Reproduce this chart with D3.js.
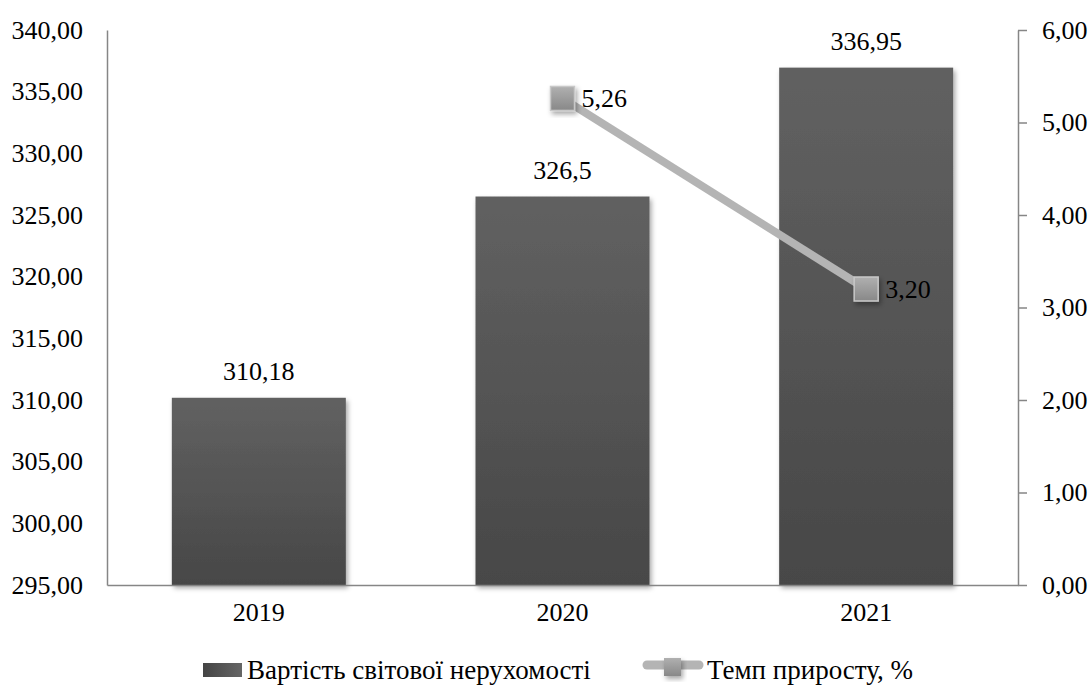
<!DOCTYPE html>
<html><head><meta charset="utf-8">
<script src="https://cdn.jsdelivr.net/npm/d3@7"></script>
</head><body style="margin:0;background:#fff">
<svg id="c" width="1092" height="685" font-family="Liberation Serif"></svg>
<script>
const years = ["2019","2020","2021"];
const values = [310.18, 326.5, 336.95];
const valueLabels = ["310,18","326,5","336,95"];
const growthYears = ["2020","2021"];
const growth = [5.26, 3.20];
const growthLabels = ["5,26","3,20"];
const leftTicks = [295,300,305,310,315,320,325,330,335,340];
const rightTicks = [0,1,2,3,4,5,6];
const seriesNames = ["Вартість світової нерухомості","Темп приросту, %"];

const FONT = "Liberation Serif";
const svg = d3.select("#c");
const m = {l:107, r:1018, t:30, b:585};
const fmt = d => d.toFixed(2).replace(".", ",");
const fs = 26;

const defs = svg.append("defs");
const bg = defs.append("linearGradient").attr("id","bg").attr("x1",0).attr("y1",0).attr("x2",0).attr("y2",1);
bg.append("stop").attr("offset","0%").attr("stop-color","#616161");
bg.append("stop").attr("offset","100%").attr("stop-color","#474747");
const lg = defs.append("linearGradient").attr("id","lg").attr("x1",0).attr("y1",0).attr("x2",1).attr("y2",0);
lg.append("stop").attr("offset","0%").attr("stop-color","#444");
lg.append("stop").attr("offset","100%").attr("stop-color","#666");
const mg = defs.append("linearGradient").attr("id","mg").attr("x1",0).attr("y1",0).attr("x2",0).attr("y2",1);
mg.append("stop").attr("offset","0%").attr("stop-color","#b0b0b0");
mg.append("stop").attr("offset","100%").attr("stop-color","#888");
const sh = defs.append("filter").attr("id","sh").attr("x","-20%").attr("y","-20%").attr("width","150%").attr("height","150%");
sh.append("feDropShadow").attr("dx",2).attr("dy",3).attr("stdDeviation",2.5).attr("flood-color","#000").attr("flood-opacity",0.35);

const x = d3.scaleBand().domain(years).range([m.l, m.r]).paddingInner(0.427).paddingOuter(0.2135);
const yL = d3.scaleLinear().domain([295,340]).range([m.b, m.t]);
const yR = d3.scaleLinear().domain([0,6]).range([m.b, m.t]);

svg.append("g").selectAll("rect").data(values).join("rect")
  .attr("x",(d,i)=>x(years[i])).attr("width",x.bandwidth())
  .attr("y",d=>yL(d)).attr("height",d=>m.b-yL(d))
  .attr("fill","url(#bg)").attr("filter","url(#sh)");

function styleAxis(g){
  g.attr("font-family",FONT).attr("font-size",fs);
  g.select(".domain").attr("stroke","#868686").attr("stroke-width",1.5);
  g.selectAll(".tick line").attr("stroke","#868686").attr("stroke-width",1.5);
  g.selectAll("text").attr("fill","#000").attr("font-family",FONT).attr("font-size",fs);
}
const gL = svg.append("g").attr("transform",`translate(${m.l},0)`)
  .call(d3.axisLeft(yL).tickValues(leftTicks).tickSize(0).tickPadding(24).tickFormat(fmt));
styleAxis(gL);
const gR = svg.append("g").attr("transform",`translate(${m.r},0)`)
  .call(d3.axisRight(yR).tickValues(rightTicks).tickSize(9).tickSizeOuter(0).tickPadding(15).tickFormat(fmt));
styleAxis(gR);
const gB = svg.append("g").attr("transform",`translate(0,${m.b})`)
  .call(d3.axisBottom(x).tickSize(0).tickPadding(18));
styleAxis(gB);

svg.append("g").selectAll("text").data(values).join("text")
  .attr("x",(d,i)=>x(years[i])+x.bandwidth()/2).attr("y",d=>yL(d)-18)
  .attr("text-anchor","middle").attr("font-family",FONT).attr("font-size",fs).text((d,i)=>valueLabels[i]);

const cx = yr => x(yr)+x.bandwidth()/2;
svg.append("path").datum(growth)
  .attr("d", d3.line().x((d,i)=>cx(growthYears[i])).y(d=>yR(d)))
  .attr("fill","none").attr("stroke","#b4b4b4").attr("stroke-width",8);
const ms = 24;
svg.append("g").selectAll("rect").data(growth).join("rect")
  .attr("x",(d,i)=>cx(growthYears[i])-ms/2).attr("y",d=>yR(d)-ms/2)
  .attr("width",ms).attr("height",ms).attr("fill","url(#mg)")
  .attr("stroke","#c8c8c8").attr("stroke-width",1.5).attr("filter","url(#sh)");
svg.append("g").selectAll("text").data(growth).join("text")
  .attr("x",(d,i)=>cx(growthYears[i])+19).attr("y",d=>yR(d)+9)
  .attr("font-family",FONT).attr("font-size",fs).text((d,i)=>growthLabels[i]);

// legend
svg.append("rect").attr("x",203).attr("y",663).attr("width",39).attr("height",14).attr("fill","url(#lg)");
svg.append("text").attr("x",247).attr("y",679).attr("font-family",FONT).attr("font-size",27).text(seriesNames[0]);
svg.append("line").attr("x1",647).attr("x2",699).attr("y1",665).attr("y2",665)
  .attr("stroke","#b4b4b4").attr("stroke-width",9).attr("stroke-linecap","round");
svg.append("rect").attr("x",664).attr("y",658).attr("width",17).attr("height",18).attr("fill","url(#mg)").attr("filter","url(#sh)");
svg.append("text").attr("x",707).attr("y",679).attr("font-family",FONT).attr("font-size",27).text(seriesNames[1]);
</script>
</body></html>
